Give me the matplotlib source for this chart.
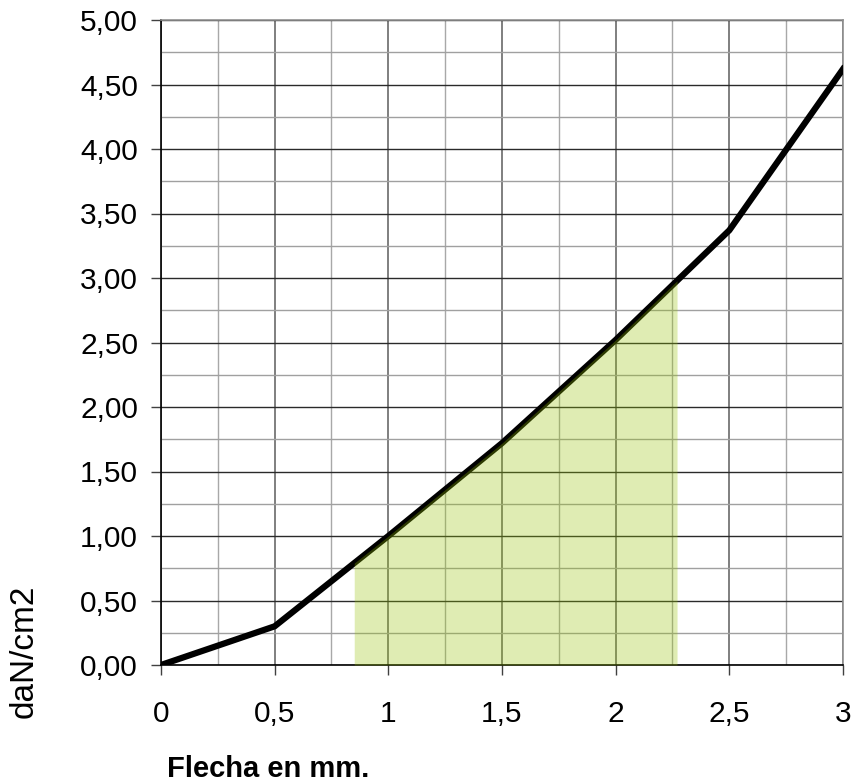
import numpy as np
import matplotlib
matplotlib.use("Agg")
import matplotlib.pyplot as plt
from matplotlib.ticker import MultipleLocator, FuncFormatter

plt.rcParams['font.family'] = ['Liberation Sans', 'DejaVu Sans']

# Data
flecha = [0, 0.5, 1.0, 1.5, 2.0, 2.5, 3.0]
presion = [0.0, 0.30, 1.00, 1.72, 2.52, 3.37, 4.62]
fill_start = 0.85
fill_end = 2.27
x_ticks = [0, 0.5, 1, 1.5, 2, 2.5, 3]
y_ticks = [0, 0.5, 1, 1.5, 2, 2.5, 3, 3.5, 4, 4.5, 5]

fig = plt.figure(figsize=(8.54, 7.84), dpi=100)
ax = fig.add_axes([161/854, 1-665/784, (843-161)/854, (665-20)/784])

ax.set_xlim(0, 3)
ax.set_ylim(0, 5)

# grid
ax.set_xticks(x_ticks)
ax.set_yticks(y_ticks)
ax.xaxis.set_minor_locator(MultipleLocator(0.25))
ax.yaxis.set_minor_locator(MultipleLocator(0.25))
ax.grid(True, which='major', axis='x', color='#6a6a6a', linewidth=1.2, zorder=0)
ax.grid(True, which='minor', axis='x', color='#a8a8a8', linewidth=1.0, zorder=0)
ax.grid(True, which='major', axis='y', color='#2a2a2a', linewidth=1.0, zorder=0)
ax.grid(True, which='minor', axis='y', color='#a0a0a0', linewidth=1.0, zorder=0)
ax.set_axisbelow(True)

ax.tick_params(axis='both', which='minor', length=0)
ax.tick_params(axis='both', which='major', direction='out', length=7.5, width=1.0,
               color='#404040', labelsize=21.5)
ax.tick_params(axis='x', which='major', pad=18)
ax.tick_params(axis='y', which='major', pad=9)

ax.xaxis.set_major_formatter(FuncFormatter(lambda v, p: ('%g' % v).replace('.', ',')))
ax.yaxis.set_major_formatter(FuncFormatter(lambda v, p: ('%.2f' % v).replace('.', ',')))

for s in ['top', 'right']:
    ax.spines[s].set_color('#909090')
    ax.spines[s].set_linewidth(1.2)
for s in ['left', 'bottom']:
    ax.spines[s].set_color('#000000')
    ax.spines[s].set_linewidth(1.2)

# curve
ax.plot(flecha, presion, color='black', linewidth=4.5, solid_joinstyle='miter',
        zorder=3, clip_on=True)

# shaded area
xf = np.linspace(fill_start, fill_end, 200)
yf = np.interp(xf, flecha, presion)
ax.fill_between(xf, 0, yf, color=(150/255, 195/255, 5/255), alpha=0.3,
                linewidth=0, zorder=4)

fig.text(24/854, 1-651/784, 'daN/cm2', rotation=90, fontsize=24,
         ha='center', va='center')
fig.text(167/854, 7/784, 'Flecha en mm.', fontsize=21, fontweight='bold',
         ha='left', va='baseline')

fig.savefig('out.png', dpi=100)
